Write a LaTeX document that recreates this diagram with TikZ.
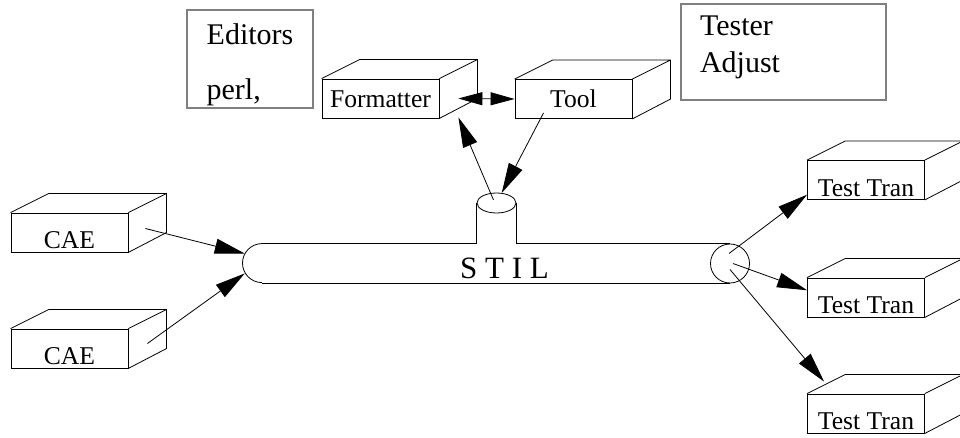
\documentclass[tikz,border=0pt]{standalone}
\usepackage{fontspec}
\setmainfont{Liberation Serif}
\usetikzlibrary{calc,arrows.meta,shapes.geometric}
\def\deepbox(#1){\draw (#1.north west) -- ++(38,-19) -- ($(#1.north east)+(38,-19)$) -- ++(0,39) -- (#1.south east) (#1.north east) -- ++(38,-19);}
\tikzset{
	unit/.style={draw, minimum width=58.5pt, minimum height=19.5pt, inner sep=0pt, text height=8.6pt, text depth=0pt, font=\fontsize{12.8}{14}\selectfont},
	lowunit/.style={unit, text height=16.5pt},
	note/.style={draw=black!50, line width=1pt, inner sep=0pt, outer sep=0pt, align=left, anchor=north west},
	arr/.style={-{Triangle[length=15pt,width=7.5pt]}},
	arrboth/.style={{Triangle[length=12pt,width=6.5pt]}-{Triangle[length=12pt,width=6.5pt]}}
}
\begin{document}
\begin{tikzpicture}[x=0.5pt, y=-0.5pt]
			%%%%% START %%%%%
			\useasboundingbox (0,0) rectangle (960,438);
			
			\node[note, minimum width=63pt, minimum height=49pt, font=\fontsize{15}{27.5}\selectfont] (editors) at (187,10) {\rule{0pt}{17pt}Editors\\perl,\rule[-3.5pt]{0pt}{3.5pt}};
			\node[note, text width=83.5pt, inner xsep=9.5pt, minimum height=48pt, font=\fontsize{15}{18.5}\selectfont] (tester) at (681,4) {\rule{0pt}{10pt}Tester\\Adjust\rule[-7.5pt]{0pt}{7.5pt}};
			
			\node[unit] (fmt) at (380.5,98.5) {Formatter};
			\node[unit] (tool) at (573.5,99) {Tool};
			\deepbox(fmt)
			\deepbox(tool)
			
			\node[lowunit] (cae1) at (69.5,232.5) {CAE};
			\node[lowunit] (cae2) at (69.5,348.5) {CAE};
			\deepbox(cae1)
			\deepbox(cae2)
			
			\node[lowunit] (tt1) at (866,180) {Test Tran};
			\node[lowunit] (tt2) at (866,297.5) {Test Tran};
			\node[lowunit] (tt3) at (866,413.5) {Test Tran};
			\deepbox(tt1)
			\deepbox(tt2)
			\deepbox(tt3)
			
			% the STIL pipe
			\node[circle, minimum size=19.5pt, inner sep=0pt] (capL) at (262,263.5) {};
			\node[circle, draw, minimum size=19.5pt, inner sep=0pt] (hub) at (730,263.5) {};
			\node[ellipse, draw, minimum width=19.5pt, minimum height=10pt, inner sep=0pt] (riser) at (496.5,203) {};
			\draw (capL.north) -- (riser.west |- capL.north) -- (riser.west) (riser.east) -- (riser.east |- capL.north) -- (hub.north) (capL.south) -- (hub.south);
			\draw (capL.north) arc (90:270:9.75pt);
			\node[font=\fontsize{15.5}{18}\selectfont, anchor=base] (stil) at (504.5,279) {S T I L};
			
			\draw[arr] ($(cae1.east)+(17,-4)$) -- (capL.150);
			\draw[arr] ($(cae2.east)+(19,-5)$) -- (capL.210);
			\draw[arrboth] ($(fmt.east)+(19,0)$) -- (tool.west);
			\draw[arr] ($(riser)+(-3,-3)$) -- ($(fmt.south east)+(19,-1)$);
			\draw[arr] ($(tool)+(-30,14)$) -- (riser);
			\draw[arr] ($(hub)+(-1,-10)$) -- (tt1.194);
			\draw[arr] ($(hub)+(3,0)$) -- (tt2.173);
			\draw[arr] ($(hub)+(0,6)$) -- ($(tt3.north west)+(17,-12)$);
			
			%%%%% END %%%%%
\end{tikzpicture}
\end{document}
